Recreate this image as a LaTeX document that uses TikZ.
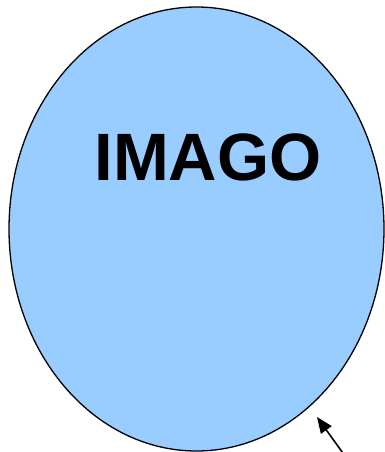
\documentclass[tikz,border=0pt]{standalone}
\usepackage{fontspec}
\setmainfont{Liberation Sans}
\usetikzlibrary{arrows.meta,shapes.geometric}
\definecolor{imagoB}{HTML}{99CCFF}

\begin{document}
\begin{tikzpicture}[x=1pt, y=-1pt,
  blob/.style={ellipse, draw=black, fill=imagoB, line width=1.3pt,
    minimum width=375pt, minimum height=444pt, inner sep=0pt},
  pointer/.style={-{Triangle[length=16pt, width=13pt]}, line width=1.6pt}]
  \path[use as bounding box] (0,0) rectangle (385,452);

  % the imago region
  \node[blob] (imago) at (196.5,229) {};
  \node[font=\fontsize{67}{70}\selectfont\bfseries] (imagolab) at (208,157) {IMAGO};

  % pointer from outside onto the border
  \coordinate (ptail) at (345,456);
  \coordinate (ptip) at (317,417);
  \draw[pointer] (ptail) -- (ptip);
\end{tikzpicture}
\end{document}
